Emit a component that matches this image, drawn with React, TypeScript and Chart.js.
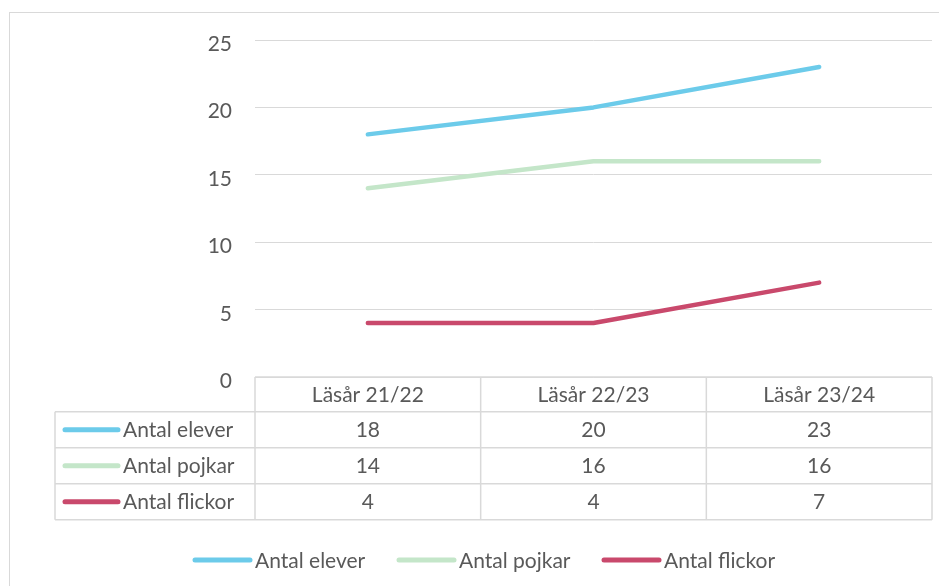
import React, { useEffect, useRef } from "react";
import { Chart, registerables } from "chart.js";

Chart.register(...registerables);

const categories = ["Läsår 21/22", "Läsår 22/23", "Läsår 23/24"];
const seriesNames = ["Antal elever", "Antal pojkar", "Antal flickor"];
const elever = [18, 20, 23];
const pojkar = [14, 16, 16];
const flickor = [4, 4, 7];
const colors = ["#6ccbea", "#c4e6c9", "#c9496c"];
const yTicks = [0, 5, 10, 15, 20, 25];

const FONT = "Lato, 'Open Sans', sans-serif";
const FONT_SIZE = 21;
const TEXT = "#595959";
const GRID = "#d9d9d9";

const tablePlugin = {
  id: "dataTable",
  afterDraw(chart: any) {
    const ctx = chart.ctx as CanvasRenderingContext2D;
    const ca = chart.chartArea;
    const x = chart.scales.x;
    const n = categories.length;
    const colW = (ca.right - ca.left) / n;
    const top = ca.bottom;
    const headerH = 34.7;
    const rowH = 36;
    const tableLeft = 47;
    const rows = [elever, pojkar, flickor];
    const bottom = top + headerH + rowH * rows.length;

    ctx.save();
    ctx.strokeStyle = GRID;
    ctx.lineWidth = 1;
    ctx.strokeRect(1.5, 4.5, 3000, 3000);

    ctx.strokeStyle = GRID;
    ctx.lineWidth = 1.5;
    ctx.beginPath();
    ctx.moveTo(ca.left, top);
    ctx.lineTo(ca.right, top);
    for (let r = 0; r <= rows.length; r++) {
      const y = top + headerH + r * rowH;
      ctx.moveTo(tableLeft, y);
      ctx.lineTo(ca.right, y);
    }
    for (let c = 0; c <= n; c++) {
      const xx = ca.left + c * colW;
      ctx.moveTo(xx, top);
      ctx.lineTo(xx, bottom);
    }
    ctx.moveTo(tableLeft, top + headerH);
    ctx.lineTo(tableLeft, bottom);
    ctx.stroke();

    ctx.fillStyle = TEXT;
    ctx.font = `${FONT_SIZE}px ${FONT}`;
    ctx.textBaseline = "middle";
    ctx.textAlign = "center";
    for (let c = 0; c < n; c++) {
      const cx = x.getPixelForValue(c);
      ctx.fillText(categories[c], cx, top + headerH / 2 + 1);
      for (let r = 0; r < rows.length; r++) {
        ctx.fillText(String(rows[r][c]), cx, top + headerH + r * rowH + rowH / 2 + 1);
      }
    }
    ctx.lineCap = "round";
    for (let r = 0; r < rows.length; r++) {
      const cy = top + headerH + r * rowH + rowH / 2;
      ctx.strokeStyle = colors[r];
      ctx.lineWidth = 5;
      ctx.beginPath();
      ctx.moveTo(57, cy);
      ctx.lineTo(110, cy);
      ctx.stroke();
      ctx.textAlign = "left";
      ctx.fillText(seriesNames[r], 115, cy + 1);
    }

    const ly = 552;
    const legendX = [187, 391, 596];
    for (let i = 0; i < seriesNames.length; i++) {
      ctx.strokeStyle = colors[i];
      ctx.lineWidth = 5;
      ctx.beginPath();
      ctx.moveTo(legendX[i], ly);
      ctx.lineTo(legendX[i] + 55, ly);
      ctx.stroke();
      ctx.textAlign = "left";
      ctx.fillText(seriesNames[i], legendX[i] + 60, ly + 1);
    }
    ctx.restore();
  },
};

export default function App() {
  const ref = useRef<HTMLCanvasElement | null>(null);
  useEffect(() => {
    if (!ref.current) return;
    const chart = new Chart(ref.current, {
      type: "line",
      data: {
        labels: categories,
        datasets: [
          { label: seriesNames[0], data: elever, borderColor: colors[0], backgroundColor: colors[0] },
          { label: seriesNames[1], data: pojkar, borderColor: colors[1], backgroundColor: colors[1] },
          { label: seriesNames[2], data: flickor, borderColor: colors[2], backgroundColor: colors[2] },
        ],
      },
      options: {
        animation: false,
        responsive: true,
        maintainAspectRatio: false,
        layout: { padding: { top: 32, left: 0, right: 15, bottom: 209 } },
        elements: {
          line: { borderWidth: 4.5, tension: 0, borderCapStyle: "round", borderJoinStyle: "round" },
          point: { radius: 0, hoverRadius: 0 },
        },
        plugins: { legend: { display: false }, tooltip: { enabled: false } },
        scales: {
          x: {
            offset: true,
            display: false,
          },
          y: {
            min: 0,
            max: 25,
            afterBuildTicks: (scale: any) => {
              scale.ticks = yTicks.map((v) => ({ value: v }));
            },
            afterFit: (scale: any) => {
              scale.width = 247;
            },
            border: { display: false },
            grid: { color: GRID, lineWidth: 1, drawTicks: false },
            ticks: {
              padding: 23,
              color: TEXT,
              font: { family: FONT, size: FONT_SIZE, lineHeight: 0.4 },
              callback: (v: any) => ["", String(v)],
            },
          },
        },
      },
      plugins: [tablePlugin],
    });
    return () => chart.destroy();
  }, []);
  return (
    <div style={{ width: 939, height: 578, position: "relative" }}>
      <canvas ref={ref} />
    </div>
  );
}
